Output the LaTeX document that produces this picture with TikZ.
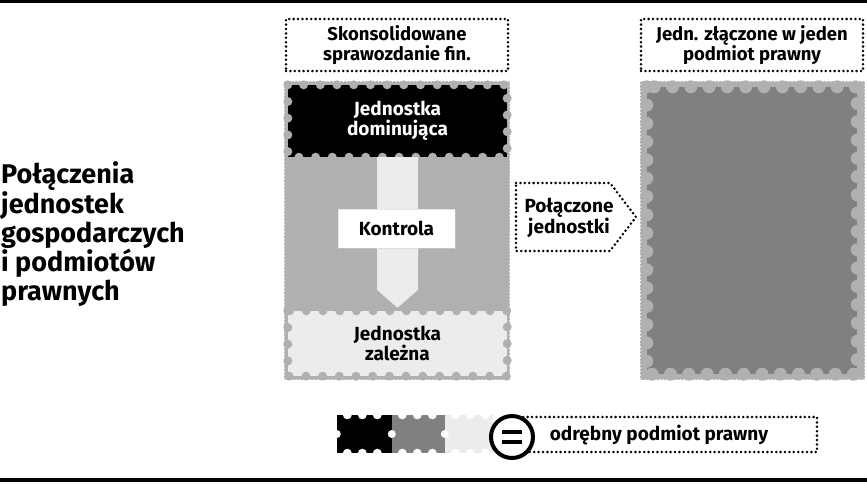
\documentclass[tikz,border=0pt]{standalone}
\usepackage{fontspec}
\setmainfont{Fira Sans}
\usetikzlibrary{calc}

\definecolor{stampgray}{HTML}{B0B0B0}
\definecolor{midgray}{HTML}{808080}
\definecolor{palegray}{HTML}{ECECEC}

\tikzset{
  txt/.style={font=\bfseries\fontsize{19}{20}\selectfont, align=center},
  dotbox/.style={draw, line width=2.8pt, dash pattern=on 0pt off 4.4pt, line cap=round},
  perf/.style={draw=white, line width=2pt, dash pattern=on 0pt off 3.5pt, line cap=round},
  bumps/.style={draw=#1, line width=9pt, dash pattern=on 0pt off 16.7pt, line cap=round},
}

\begin{document}
\begin{tikzpicture}[x=1pt,y=-1pt]
\useasboundingbox (0,0) rectangle (867,483);
\draw[line width=3pt] (0,1.5) -- (867,1.5);
\draw[line width=4pt] (0,480) -- (867,480);

% title
\node[anchor=west, align=left, inner sep=0pt, font=\bfseries\fontsize{27}{28.5}\selectfont] (title) at (1,234)
  {Połączenia\\jednostek\\gospodarczych\\i podmiotów\\prawnych};

% headers
\node[dotbox, txt, font=\bfseries\fontsize{18.5}{19.5}\selectfont, minimum width=222pt, minimum height=52pt] (hdrL) at (397,45) {Skonsolidowane\\sprawozdanie fin.};
\node[dotbox, txt, font=\bfseries\fontsize{18.5}{19.5}\selectfont, minimum width=222pt, minimum height=52pt] (hdrR) at (752,45) {Jedn. złączone w jeden\\podmiot prawny};

% left stamp
\fill[stampgray] (284,81) rectangle (510,380);
\draw[perf] (284,81) rectangle (510,380);
\node[txt, fill=black, text=white, minimum width=219pt, minimum height=72pt] (dom) at (397.5,121) {Jednostka\\dominująca};
\draw[bumps=stampgray] (dom.north west) rectangle (dom.south east);
\node[txt, fill=palegray, minimum width=219pt, minimum height=65pt] (zal) at (397.5,343.5) {Jednostka\\zależna};
\draw[bumps=stampgray] (zal.north west) rectangle (zal.south east);

% control arrow
\fill[palegray] ($(dom.south)+(-20.5,0)$) -- ($(zal.north)+(-20.5,-21)$) -- ($(zal.north)+(0,-3)$)
  -- ($(zal.north)+(20.5,-21)$) -- ($(dom.south)+(20.5,0)$) -- cycle;
\node[txt, fill=white, draw=stampgray!60, line width=1pt, dash pattern=on 1pt off 1pt,
  minimum width=117pt, minimum height=39pt] (ctrl) at (396.5,228.5) {Kontrola};

% combined
\node[txt] (comb) at (569,218) {Połączone\\jednostki};
\draw[dotbox] (516,183) -- (610,183) -- (636,217) -- (610,251) -- (516,251) -- cycle;

% right stamp
\fill[stampgray] (640,81) rectangle (865,380);
\draw[perf] (640,81) rectangle (865,380);
\node[fill=midgray, minimum width=210pt, minimum height=287pt] (merged) at (752,230.5) {};
\draw[stampgray, line width=13pt, dash pattern=on 0pt off 18.3pt, line cap=round] (merged.north west) rectangle (merged.south east);

% key
\draw[dotbox] (512,417) rectangle (817,452);
\node[txt] (keytxt) at (659,435) {odrębny podmiot prawny};
\node[fill=black, minimum width=55pt, minimum height=38pt, inner sep=0pt] (keyA) at (364.5,434) {};
\node[fill=midgray, minimum width=53pt, minimum height=38pt, inner sep=0pt] (keyB) at (418.5,434) {};
\node[fill=palegray, minimum width=48pt, minimum height=38pt, inner sep=0pt] (keyC) at (469,434) {};
\foreach \k in {keyA,keyB,keyC} {
  \foreach \d in {10.5,25.5,40.5} {
    \fill[white] ($(\k.north west)+(\d,0)$) circle (4.5);
    \fill[white] ($(\k.south west)+(\d,0)$) circle (4.5);
  }
  \fill[white] (\k.west) circle (4);
}
\node[circle, draw, line width=4pt, fill=white, minimum size=42pt, inner sep=0pt] (eq) at (512,437) {};
\fill ($(eq.center)+(-10,-7)$) rectangle ($(eq.center)+(10,-3)$);
\fill ($(eq.center)+(-10,3)$) rectangle ($(eq.center)+(10,7)$);
\end{tikzpicture}
\end{document}
